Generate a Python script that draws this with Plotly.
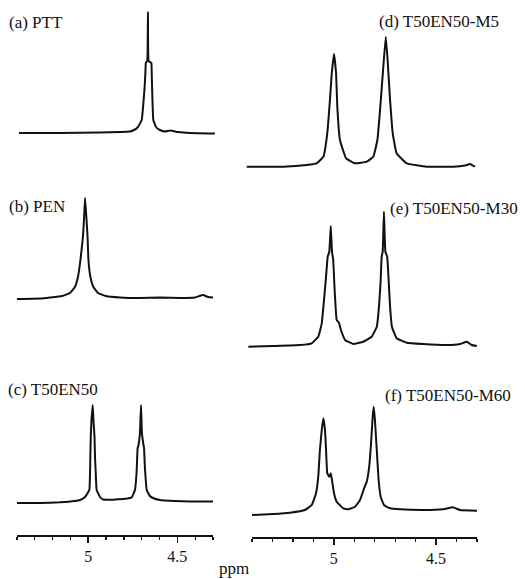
import plotly.graph_objects as go

W, H = 525, 579

# ---------------- data (ppm, intensity a.u.) ----------------
ppm_a = [5.389, 5.159, 4.934, 4.822, 4.766, 4.743, 4.721, 4.700, 4.693, 4.684, 4.679, 4.677,
         4.669, 4.665, 4.661, 4.646, 4.644, 4.641, 4.635, 4.620, 4.598, 4.569, 4.541, 4.497,
         4.429, 4.289]
int_a = [0, 0, 0.5, 1, 1.5, 3, 6, 13, 25, 45, 62, 70,
         72, 121, 72, 70, 60, 40, 13, 6, 3, 1.5, 2.5, 1,
         0, -0.5]

ppm_b = [5.400, 5.271, 5.215, 5.147, 5.103, 5.075, 5.058, 5.044, 5.030, 5.024, 5.018, 5.010,
         5.004, 4.999, 4.988, 4.971, 4.945, 4.901, 4.822, 4.710, 4.598, 4.485, 4.401, 4.356,
         4.328, 4.300]
int_b = [0, 0.5, 1.5, 3, 6, 12, 22, 39, 62, 80, 101, 80,
         62, 39, 22, 12, 6, 3, 1.5, 1, 1.5, 1, 1.5, 4,
         2, 1.5]

ppm_c = [5.400, 5.271, 5.159, 5.075, 5.046, 5.018, 4.994, 4.990, 4.988, 4.986, 4.982, 4.975,
         4.971, 4.965, 4.962, 4.958, 4.953, 4.934, 4.917, 4.878, 4.839, 4.794, 4.766, 4.756,
         4.738, 4.729, 4.723, 4.718, 4.710, 4.704, 4.699, 4.690, 4.687, 4.682, 4.672, 4.654,
         4.637, 4.598, 4.513, 4.429, 4.300]
int_c = [0, 0, 0.7, 2, 3, 6, 13, 30, 50, 66, 83, 98,
         83, 66, 45, 30, 13, 6, 3.5, 3.3, 3.7, 4.2, 5, 5.5,
         13, 30, 55, 58, 70, 98, 70, 58, 55, 35, 13, 7,
         5, 3, 2, 1.5, 1.5]

ppm_d = [5.426, 5.247, 5.133, 5.084, 5.051, 5.032, 5.019, 5.010, 4.999, 4.989, 4.983, 4.970,
         4.940, 4.896, 4.839, 4.807, 4.787, 4.774, 4.758, 4.746, 4.737, 4.725, 4.712, 4.693,
         4.644, 4.546, 4.416, 4.359, 4.334, 4.310]
int_d = [0.3, 0.3, 2, 3.7, 10.3, 33.7, 67, 93.7, 113, 93.7, 60.3, 27,
         8.7, 3.7, 5.3, 10.3, 27, 57, 100.3, 130.3, 107, 67, 33.7, 13.7,
         3.7, 0.3, 0.3, 1.5, 3, 0.3]

ppm_e = [5.418, 5.296, 5.165, 5.108, 5.076, 5.059, 5.048, 5.038, 5.030, 5.022, 5.015, 5.009,
         5.003, 4.996, 4.986, 4.975, 4.965, 4.945, 4.905, 4.856, 4.815, 4.790, 4.778, 4.771,
         4.766, 4.761, 4.755, 4.748, 4.739, 4.732, 4.725, 4.716, 4.693, 4.644, 4.563, 4.448,
         4.383, 4.350, 4.326, 4.301]
int_e = [-0.7, 0, 1, 2.7, 9.3, 22.7, 46, 69.3, 89.3, 94.3, 120, 94.3,
         86, 56, 26, 23.3, 16, 6, 2, 4.3, 9.3, 19.3, 42.7, 66,
         89.3, 94.3, 134.3, 94.3, 89.3, 66, 39.3, 19.3, 7.7, 3.3, 2, 1,
         2, 4.3, 1, 0]

ppm_f = [5.400, 5.296, 5.214, 5.141, 5.108, 5.087, 5.076, 5.068, 5.059, 5.051, 5.043, 5.038,
         5.032, 5.022, 5.015, 5.009, 4.999, 4.986, 4.954, 4.929, 4.896, 4.872, 4.852, 4.839,
         4.827, 4.818, 4.810, 4.805, 4.799, 4.790, 4.781, 4.771, 4.755, 4.725, 4.676, 4.563,
         4.465, 4.419, 4.383, 4.300]
int_f = [0, 1, 2.3, 5, 10, 21.7, 38.3, 65, 85, 96.7, 85, 65,
         41.7, 38.3, 41.7, 35, 21.7, 13.3, 6.7, 5.7, 8.3, 15, 26.7, 33.3,
         48.3, 71.7, 98.3, 108.3, 95, 65, 35, 18.3, 10, 6.7, 5.7, 5,
         5.7, 7.7, 5, 4.3]

labels = ["(a) PTT", "(b) PEN", "(c) T50EN50",
          "(d) T50EN50-M5", "(e) T50EN50-M30", "(f) T50EN50-M60"]
tick_vals = [5.0, 4.5]
tick_text = ["5", "4.5"]
x_title = "ppm"
ppm_range = [5.4, 4.3]

series = [(ppm_a, int_a), (ppm_b, int_b), (ppm_c, int_c),
          (ppm_d, int_d), (ppm_e, int_e), (ppm_f, int_f)]

# ---------------- layout (pixels) ----------------
col_px = {0: (17, 213), 1: (252, 477)}
# panel: column, top px, bottom px, baseline px, shows axis, label x, label y
panels = [
    (0, 5, 140, 133, False, 7, 23),
    (0, 185, 306, 299, False, 7, 206),
    (0, 395, 535, 503, True, 6, 389),
    (1, 15, 175, 167, False, 377, 21),
    (1, 195, 355, 346, False, 388, 208),
    (1, 400, 537, 515, True, 383, 395),
]

fig = go.Figure()
annotations = []
lay = {}
serif = "Liberation Serif"
ink = "#111"
for i, ((px, iy), (col, top, bot, base, show_axis, lx, ly)) in enumerate(zip(series, panels), start=1):
    x0, x1 = col_px[col]
    scale = (ppm_range[0] - ppm_range[1]) / (x1 - x0)
    if show_axis:
        d0, d1 = x0, x1
        rng = list(ppm_range)
    else:
        pad = 12
        d0, d1 = x0 - pad, x1 + pad
        rng = [ppm_range[0] + pad * scale, ppm_range[1] - pad * scale]
    xa = "xaxis" if i == 1 else f"xaxis{i}"
    ya = "yaxis" if i == 1 else f"yaxis{i}"
    xref = "x" if i == 1 else f"x{i}"
    yref = "y" if i == 1 else f"y{i}"
    xdict = dict(domain=[d0 / W, d1 / W], range=rng, showgrid=False, zeroline=False,
                 anchor=yref, fixedrange=True)
    if show_axis:
        xdict.update(showline=True, linecolor=ink, linewidth=1.6,
                     ticks="outside", ticklen=6, tickwidth=1.6, tickcolor=ink,
                     tickvals=tick_vals, ticktext=tick_text,
                     tickfont=dict(family=serif, size=16, color=ink),
                     minor=dict(dtick=0.1, tick0=5.0, ticks="outside", ticklen=3,
                                tickwidth=1.3, tickcolor=ink, showgrid=False))
    else:
        xdict.update(visible=False)
    lay[xa] = xdict
    lay[ya] = dict(domain=[1 - bot / H, 1 - top / H], range=[base - bot, base - top],
                   visible=False, anchor=xref, fixedrange=True)
    fig.add_trace(go.Scatter(x=px, y=iy, mode="lines", xaxis=xref, yaxis=yref,
                             line=dict(color=ink, width=2, shape="spline", smoothing=0.3),
                             showlegend=False, hoverinfo="skip"))
    annotations.append(dict(text=labels[i - 1], x=lx / W, y=1 - ly / H, xref="paper",
                            yref="paper", xanchor="left", yanchor="middle", showarrow=False,
                            font=dict(family=serif, size=17, color=ink)))

annotations.append(dict(text=x_title, x=234 / W, y=1 - 568 / H, xref="paper", yref="paper",
                        xanchor="center", yanchor="middle", showarrow=False,
                        font=dict(family=serif, size=17, color=ink)))

fig.update_layout(width=W, height=H, margin=dict(l=0, r=0, t=0, b=0),
                  paper_bgcolor="white", plot_bgcolor="white",
                  annotations=annotations, showlegend=False, **lay)

fig.write_html("out.html",
               config={"displayModeBar": False, "staticPlot": True},
               post_script="document.body.style.margin='0px';document.body.style.padding='0px';"
                           "document.body.style.overflow='hidden';")
